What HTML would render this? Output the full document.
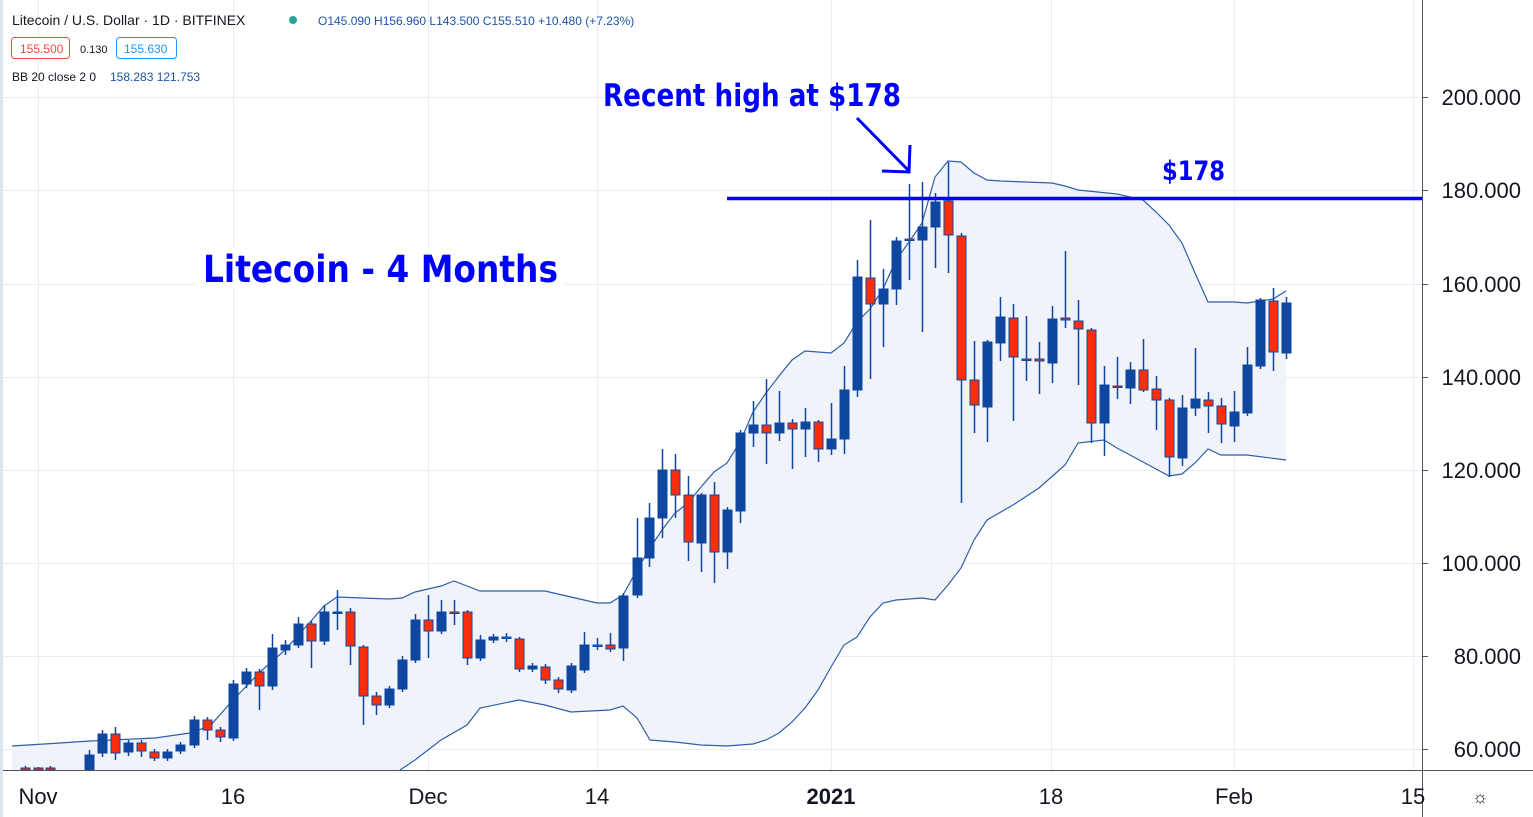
<!DOCTYPE html>
<html><head><meta charset="utf-8"><style>
html,body{margin:0;padding:0;background:#fff;width:1533px;height:817px;overflow:hidden}
svg{display:block}
</style></head><body>
<svg id="s" width="1533" height="817" xmlns="http://www.w3.org/2000/svg" font-family="Liberation Sans, sans-serif">
<rect width="1533" height="817" fill="#fff"/>
<g id="grid" stroke="#e6edf4" stroke-width="1"></g>
<path id="band" fill="#f0f4fa" stroke="none"/>
<polyline id="up" fill="none" stroke="#2f5ea8" stroke-width="1.2"/>
<polyline id="lo" fill="none" stroke="#2f5ea8" stroke-width="1.2"/>
<g id="c"></g>
<line x1="727" y1="198.5" x2="1422" y2="198.5" stroke="#0000ff" stroke-width="3.5"/>
<line x1="857" y1="118" x2="909" y2="171" stroke="#0000ff" stroke-width="3"/>
<polyline points="882,171 909,172 910,145" fill="none" stroke="#0000ff" stroke-width="3"/>
<text x="603" y="106" font-family="DejaVu Sans, sans-serif" font-size="31" font-weight="bold" fill="#0000ff" textLength="298" lengthAdjust="spacingAndGlyphs">Recent high at $178</text>
<text x="1162" y="180" font-family="DejaVu Sans, sans-serif" font-size="27" font-weight="bold" fill="#0000ff" textLength="63" lengthAdjust="spacingAndGlyphs">$178</text>
<rect x="195" y="248" width="370" height="40" fill="#fff"/>
<text x="203" y="282" font-family="DejaVu Sans, sans-serif" font-size="37" font-weight="bold" fill="#0000ff" textLength="355" lengthAdjust="spacingAndGlyphs">Litecoin - 4 Months</text>
<line x1="1422.5" y1="0" x2="1422.5" y2="817" stroke="#50535e" stroke-width="1"/>
<line x1="0" y1="770.5" x2="1533" y2="770.5" stroke="#50535e" stroke-width="1"/>
<rect x="0" y="0" width="3" height="817" fill="#dde3ee"/>
<g id="ax" font-size="22" fill="#131722"></g>
<text x="1480" y="803" font-size="18" fill="#131722" text-anchor="middle">☼</text>
<g font-size="13" fill="#131722">
<text x="12" y="25" font-size="14">Litecoin / U.S. Dollar · 1D · BITFINEX</text>
<circle cx="293" cy="20" r="4" fill="#26a69a"/>
<text x="318" y="25" font-size="12" fill="#1e53a5">O145.090  H156.960  L143.500  C155.510  +10.480 (+7.23%)</text>
<rect x="11.5" y="37.5" width="58" height="21" rx="3" fill="#fff" stroke="#f04a3a"/>
<text x="20" y="53" font-size="12" fill="#f04a3a">155.500</text>
<text x="80" y="53" font-size="11">0.130</text>
<rect x="116.5" y="37.5" width="60" height="21" rx="3" fill="#fff" stroke="#2196f3"/>
<text x="124" y="53" font-size="12" fill="#2196f3">155.630</text>
<text x="12" y="81" font-size="12">BB 20 close 2 0</text>
<text x="110" y="81" font-size="12" fill="#1e53a5">158.283  121.753</text>
</g>
</svg>
<script>
var NS="http://www.w3.org/2000/svg";
function el(p,t,a,txt){var e=document.createElementNS(NS,t);for(var k in a)e.setAttribute(k,a[k]);if(txt)e.textContent=txt;p.appendChild(e);return e;}
var g=document.getElementById('grid');
[97,190,284,377,470,563,656,749].forEach(function(y){el(g,'line',{x1:0,x2:1422,y1:y+.5,y2:y+.5});});
[38,233,428,597,831,1051,1234,1413].forEach(function(x){el(g,'line',{x1:x+.5,x2:x+.5,y1:0,y2:770});});
var ax=document.getElementById('ax');
var labs=["200.000","180.000","160.000","140.000","120.000","100.000","80.000","60.000"];
[97,190,284,377,470,563,656,749].forEach(function(y,i){el(ax,'text',{x:1521,y:y+8,'text-anchor':'end'},labs[i]);el(ax,'line',{x1:1422,x2:1428,y1:y+.5,y2:y+.5,stroke:'#50535e'});});
var bl=[[38,"Nov",0],[233,"16",0],[428,"Dec",0],[597,"14",0],[831,"2021",1],[1051,"18",0],[1234,"Feb",0],[1413,"15",0]];
bl.forEach(function(b){var t=el(ax,'text',{x:b[0],y:804,'text-anchor':'middle'},b[1]);if(b[2])t.setAttribute('font-weight','bold');});
var C=[[25,768,770,766,772],[38,768,770,767,772],[50,768,770,766,772],[89,770,755,750,772],[102,753,734,730,757],[115,734,753,727,760],[128,752,743,740,756],[141,743,751,740,757],[154,752,758,749,761],[167,758,752,749,761],[180,751,745,742,754],[194,745,720,716,748],[207,720,730,717,740],[220,730,737,727,742],[233,738,684,680,741],[246,684,672,668,688],[259,672,686,669,710],[272,686,648,634,690],[285,650,645,640,655],[298,645,624,617,648],[311,624,641,621,668],[324,641,612,605,645],[337,613,612,590,630],[350,612,646,608,665],[363,647,696,645,725],[376,696,705,692,715],[389,705,689,686,708],[402,689,660,656,692],[415,660,620,614,663],[428,620,631,595,658],[441,631,612,600,634],[454,612,613,600,625],[467,612,658,610,665],[480,658,640,635,661],[493,640,637,634,643],[506,637,638,633,642],[519,639,669,637,672],[532,669,666,663,672],[545,667,680,664,684],[558,680,689,677,693],[571,690,666,663,693],[584,670,645,632,673],[597,645,646,638,650],[610,645,649,633,652],[623,648,596,593,661],[637,595,558,518,598],[649,558,518,503,567],[662,518,470,449,538],[675,470,495,454,518],[688,495,542,476,561],[701,543,495,493,572],[714,495,552,482,583],[727,552,510,507,569],[740,511,433,430,523],[753,433,425,401,447],[766,425,433,379,464],[779,433,423,391,441],[792,423,429,419,469],[805,429,422,408,457],[818,422,449,420,462],[831,449,439,403,455],[844,439,390,366,454],[857,390,277,260,397],[870,278,304,220,379],[883,304,289,269,347],[896,289,241,237,305],[909,239,240,184,280],[922,240,227,182,332],[935,227,202,193,268],[948,201,235,162,273],[961,236,380,233,503],[974,380,405,341,433],[987,407,342,340,442],[1000,343,317,297,361],[1013,318,357,304,421],[1026,359,360,316,381],[1039,359,361,342,394],[1052,363,319,306,383],[1065,318,320,251,328],[1078,321,329,300,385],[1091,330,423,328,443],[1104,423,385,366,456],[1117,386,387,357,399],[1130,388,370,362,404],[1143,370,390,339,392],[1156,389,400,376,430],[1169,400,457,398,477],[1182,458,408,395,466],[1195,408,399,348,416],[1208,400,406,392,433],[1221,406,424,398,443],[1234,426,412,391,442],[1247,413,365,347,416],[1260,366,300,298,369],[1273,301,352,288,371],[1286,353,303,297,359]];
var U=[[12,746],[60,743],[90,741],[155,738],[190,733],[210,726],[233,700],[260,672],[285,650],[311,621],[324,606],[337,597],[363,598],[389,599],[402,598],[415,592],[441,586],[454,581],[467,586],[480,591],[545,591],[584,600],[597,603],[610,603],[623,595],[637,570],[650,548],[662,530],[675,513],[688,503],[701,487],[714,472],[727,463],[740,442],[753,412],[766,393],[779,376],[792,360],[805,351],[831,353],[844,343],[857,322],[870,309],[883,289],[896,260],[909,242],[922,223],[935,177],[948,161],[961,162],[974,173],[987,180],[1000,181],[1052,183],[1065,186],[1078,190],[1117,194],[1143,200],[1156,212],[1169,225],[1182,243],[1195,273],[1208,302],[1234,302],[1247,303],[1273,299],[1286,291]];
var L=[[400,770],[415,760],[441,740],[467,725],[480,708],[519,700],[545,705],[571,712],[610,710],[623,706],[637,718],[650,740],[675,742],[701,745],[727,746],[753,744],[766,740],[779,733],[792,722],[805,708],[818,690],[831,667],[844,645],[857,637],[870,617],[883,603],[896,600],[922,598],[935,600],[948,585],[961,568],[974,540],[987,520],[1013,505],[1039,488],[1065,465],[1078,443],[1104,440],[1117,448],[1143,462],[1169,476],[1182,474],[1195,463],[1208,449],[1221,455],[1247,455],[1286,460]];
function pts(a){return a.map(function(p){return p.join(',')}).join(' ');}
document.getElementById('up').setAttribute('points',pts(U));
document.getElementById('lo').setAttribute('points',pts(L));
var d='M'+pts(U)+' L1286,460 '+L.slice().reverse().map(function(p){return p.join(',')}).join(' ')+' L12,770 Z';
document.getElementById('band').setAttribute('d',d);
var cg=document.getElementById('c');
C.forEach(function(c){var x=c[0],o=c[1],cl=c[2],h=c[3],l=c[4];var up=cl<o;var col='#0f47a0';
el(cg,'line',{x1:x+.5,x2:x+.5,y1:h,y2:Math.min(l,770),stroke:col,'stroke-width':1.5});
var top=Math.min(o,cl),bot=Math.min(Math.max(o,cl),770);var hh=Math.max(bot-top,1.5);
el(cg,'rect',{x:x-4,y:top,width:9,height:hh,fill:up?col:'#ff2e0a',stroke:col,'stroke-width':1});});
</script>
</body></html>
